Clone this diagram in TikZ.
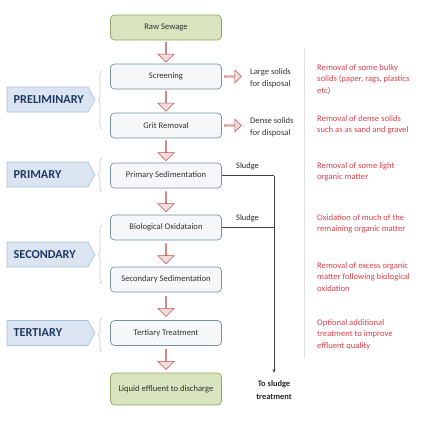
\documentclass[tikz,border=0pt]{standalone}
\usepackage{fontspec}
\setmainfont{Carlito}
\usetikzlibrary{shapes.arrows,decorations.pathreplacing,calc,arrows.meta}
\definecolor{boxline}{HTML}{7393A3}
\definecolor{boxfill}{HTML}{F6F7F8}
\definecolor{greenfill}{HTML}{D7E4BD}
\definecolor{greenline}{HTML}{8FA865}
\definecolor{arrfill}{HTML}{F2DCDB}
\definecolor{arrline}{HTML}{C0504D}
\definecolor{stagefill}{HTML}{DBE5F1}
\definecolor{stageline}{HTML}{A7BFDE}
\definecolor{stagetext}{HTML}{1F3864}
\definecolor{redtext}{HTML}{D9414B}
\definecolor{bracecol}{HTML}{C8C8C8}
\tikzset{
  stepbox/.style={draw=boxline, line width=0.7pt, fill=boxfill, rounded corners=4pt,
    minimum width=111pt, minimum height=25pt, inner sep=0pt, font=\fontsize{8.6}{10}\selectfont, text=black!80},
  endbox/.style={stepbox, draw=greenline, fill=greenfill},
  darr/.style={single arrow, draw=arrline, fill=arrfill, line width=0.5pt,
    minimum width=16pt, minimum height=20pt, single arrow head extend=4pt, single arrow head indent=0pt,
    shape border rotate=270, inner sep=0pt},
  rarr/.style={single arrow, draw=arrline, fill=arrfill, line width=0.5pt,
    minimum width=13pt, minimum height=17pt, single arrow head extend=2.5pt,
    shape border rotate=0, inner sep=0pt},
  sidetext/.style={align=left, font=\fontsize{8.6}{12}\selectfont, text=black!80},
  note/.style={anchor=north west, align=left, font=\fontsize{8.6}{11.6}\selectfont, text=redtext, inner sep=0pt},
  stage/.style={draw=stageline, fill=stagefill, line width=0.6pt},
  stagelabel/.style={anchor=west, inner sep=0pt, font=\fontsize{12.2}{14}\selectfont\bfseries, text=stagetext},
  grpbrace/.style={draw=bracecol, line width=0.6pt, decorate, decoration={brace, amplitude=4pt}},
  sludge/.style={draw=black!75, line width=0.8pt},
  smalltext/.style={font=\fontsize{8.4}{11.5}\selectfont, text=black!85, inner sep=0pt}
}
\begin{document}
\begin{tikzpicture}[x=1pt,y=-1pt]
\useasboundingbox (0,0) rectangle (427,420);
% main boxes
\node[endbox] (raw) at (166,27.5) {Raw Sewage};
\node[stepbox] (scr) at (166,76.5) {Screening};
\node[stepbox] (grit) at (166,125.5) {Grit Removal};
\node[stepbox] (prim) at (166,175.5) {Primary Sedimentation};
\node[stepbox] (bio) at (166,227.5) {Biological Oxidataion};
\node[stepbox] (sec) at (166,279.5) {Secondary Sedimentation};
\node[stepbox] (ter) at (166,333) {Tertiary Treatment};
\node[endbox, minimum height=32pt] (liq) at (166,389) {Liquid effluent to discharge};
% down arrows
\foreach \a/\b/\nm in {raw/scr/d1, scr/grit/d2, grit/prim/d3, prim/bio/d4, bio/sec/d5, sec/ter/d6, ter/liq/d7}{
  \node[darr] (\nm) at ($(\a.south)!0.5!(\b.north)$) {};
}
% side arrows
\node[rarr] (r1) at (232.5,76.5) {};
\node[rarr] (r2) at (232.5,125.5) {};
\node[sidetext, anchor=west, inner sep=0pt] (t1) at (250,78) {Large solids\\for disposal};
\node[sidetext, anchor=west, inner sep=0pt] (t2) at (250,127) {Dense solids\\for disposal};
% sludge lines
\coordinate (j1) at (274,175.5);
\coordinate (j2) at (274,227.5);
\coordinate (send) at (274,373);
\draw[sludge] (prim.east) -- (j1);
\draw[sludge,-{Stealth[length=4pt,width=3pt]}] (j1) -- (send);
\draw[sludge] (bio.east) -- (j2);
\node[smalltext] (s1) at (247.5,166) {Sludge};
\node[smalltext] (s2) at (247.5,218) {Sludge};
\node[smalltext, align=center, font=\fontsize{8.4}{13}\selectfont\bfseries] (tst) at (274,390) {To sludge\\treatment};
% stage pentagons
\foreach \y/\t/\nm in {99.5/PRELIMINARY/p1, 174.5/PRIMARY/p2, 254.5/SECONDARY/p3, 333/TERTIARY/p4}{
  \draw[stage] (7,\y-12.5) -- (88,\y-12.5) -- (95,\y) -- (88,\y+12.5) -- (7,\y+12.5) -- cycle;
  \node[stagelabel] (\nm) at (13.5,\y) {\t};
}
% braces
\draw[grpbrace] (102,129) -- (102,71);
\draw[grpbrace] (102,192) -- (102,158);
\draw[grpbrace] (102,284) -- (102,225);
\draw[grpbrace] (102,352) -- (102,318);
% separator line
\draw[draw=black!12, line width=0.8pt] (304.5,48) -- (304.5,358);
% notes
\node[note] (n1) at (317,64) {Removal of some bulky\\solids (paper, rags, plastics\\etc)};
\node[note] (n2) at (317,115) {Removal of dense solids\\such as as sand and gravel};
\node[note] (n3) at (317,162) {Removal of some light\\organic matter};
\node[note] (n4) at (317,214) {Oxidation of much of the\\remaining organic matter};
\node[note] (n5) at (317,262) {Removal of excess organic\\matter following biological\\oxidation};
\node[note] (n6) at (317,319) {Optional additional\\treatment to improve\\effluent quality};
\end{tikzpicture}
\end{document}
